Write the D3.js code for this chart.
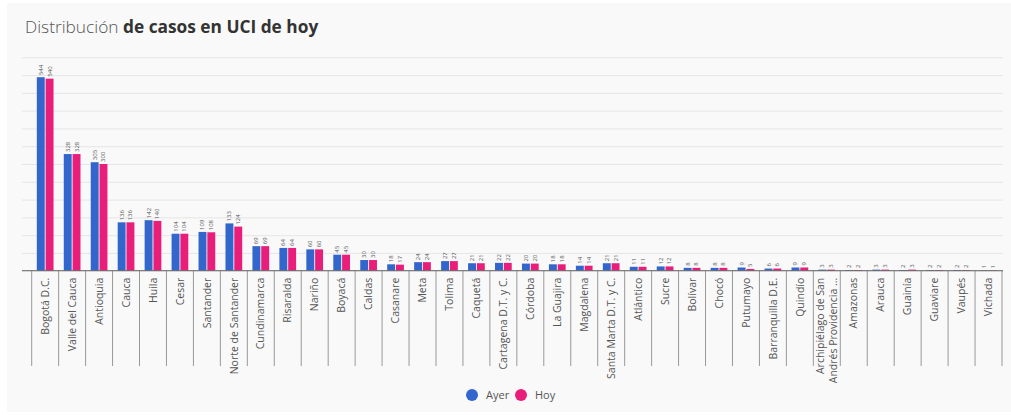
<!DOCTYPE html>
<html>
<head>
<meta charset="utf-8">
<script src="https://cdn.jsdelivr.net/npm/d3@7"></script>
<style>
  body { margin: 0; background: #fff; font-family: "Open Sans", "DejaVu Sans", sans-serif; }
  .grid line { stroke: #e6e6e6; }
  .grid path { display: none; }
</style>
</head>
<body>
<svg id="chart" width="1011" height="415"></svg>
<script>
// datos
var categorias = ["Bogotá D.C.", "Valle del Cauca", "Antioquia", "Cauca", "Huila", "Cesar", "Santander",
  "Norte de Santander", "Cundinamarca", "Risaralda", "Nariño", "Boyacá", "Caldas", "Casanare", "Meta",
  "Tolima", "Caquetá", "Cartagena D.T. y C.", "Córdoba", "La Guajira", "Magdalena", "Santa Marta D.T. y C.",
  "Atlántico", "Sucre", "Bolívar", "Chocó", "Putumayo", "Barranquilla D.E.", "Quindío",
  "Archipiélago de San Andrés Providencia ...", "Amazonas", "Arauca", "Guainía", "Guaviare", "Vaupés", "Vichada"];
var ayer = [544, 328, 305, 136, 142, 104, 109, 133, 69, 64, 60, 45, 30, 18, 24, 27, 21, 22, 20, 18, 14, 21,
  11, 12, 8, 8, 9, 6, 9, 3, 2, 3, 2, 2, 2, 1];
var hoy = [540, 328, 300, 136, 140, 104, 108, 124, 69, 64, 60, 45, 30, 17, 24, 27, 21, 22, 20, 18, 14, 21,
  11, 12, 8, 8, 5, 6, 9, 3, 2, 3, 3, 2, 2, 1];
var series = ["Ayer", "Hoy"];
var colores = ["#3366cc", "#e91e7a"];
var yTicks = d3.range(0, 601, 50);

var svg = d3.select("#chart");

// fondo
svg.append("rect").attr("x", 7).attr("y", 3).attr("width", 1004).attr("height", 409).attr("fill", "#f9f9f9");

// titulo
var t = svg.append("text").attr("x", 25).attr("y", 33).attr("font-size", 17.3).attr("fill", "#555");
t.append("tspan").attr("font-weight", 300).text("Distribución ");
t.append("tspan").attr("font-weight", "bold").attr("fill", "#333").text("de casos en UCI de hoy");

var mLeft = 22, mRight = 1003, mTop = 57.3, mBottom = 270.7;

var x0 = d3.scaleBand().domain(categorias).range([31.7, 1002]).paddingInner(0.38).paddingOuter(0.19);
var x1 = d3.scaleBand().domain(series).range([0, x0.bandwidth()]).paddingInner(0.1);
var y = d3.scaleLinear().domain([0, 600]).range([mBottom, mTop]);

// grilla
svg.append("g")
  .attr("class", "grid")
  .attr("transform", "translate(" + mLeft + ",0)")
  .call(d3.axisLeft(y).tickValues(yTicks).tickSize(-(mRight - mLeft)).tickFormat(""));

// ticks del eje x (limites de banda)
var bordes = categorias.map(function (c) { return x0(c) - x0.step() * 0.19; });
bordes.push(1002);
svg.selectAll(".xtick").data(bordes).enter().append("line")
  .attr("x1", function (d) { return d; }).attr("x2", function (d) { return d; })
  .attr("y1", mBottom).attr("y2", 366)
  .attr("stroke", "#999").attr("stroke-width", 1);

// barras
var datos = categorias.map(function (c, i) { return { cat: c, vals: [ayer[i], hoy[i]] }; });
var grupos = svg.selectAll(".grupo").data(datos).enter().append("g")
  .attr("transform", function (d) { return "translate(" + x0(d.cat) + ",0)"; });

grupos.selectAll("rect").data(function (d) { return d.vals.map(function (v, j) { return { s: series[j], v: v, j: j }; }); })
  .enter().append("rect")
  .attr("x", function (d) { return x1(d.s); })
  .attr("y", function (d) { return y(d.v); })
  .attr("width", x1.bandwidth())
  .attr("height", function (d) { return mBottom - y(d.v); })
  .attr("fill", function (d) { return colores[d.j]; });

grupos.selectAll(".val").data(function (d) { return d.vals.map(function (v, j) { return { s: series[j], v: v }; }); })
  .enter().append("text")
  .attr("transform", function (d) {
    return "translate(" + (x1(d.s) + x1.bandwidth() / 2 + 2) + "," + (y(d.v) - 2) + ") rotate(-90)";
  })
  .attr("font-size", 6).attr("fill", "#555")
  .text(function (d) { return d.v; });

// linea base
svg.append("line").attr("x1", mLeft).attr("x2", mRight).attr("y1", mBottom).attr("y2", mBottom)
  .attr("stroke", "#666").attr("stroke-width", 1);

// etiquetas
svg.selectAll(".lab").data(categorias).enter().append("text")
  .attr("transform", function (d) { return "translate(" + (x0(d) + x0.bandwidth() / 2) + "," + (mBottom + 7) + ") rotate(-90)"; })
  .attr("text-anchor", "end")
  .attr("font-size", 10.5).attr("fill", "#555")
  .each(function (d) {
    var el = d3.select(this);
    if (d.length > 30) {
      el.append("tspan").attr("x", 0).attr("dy", "-0.3em").text("Archipiélago de San");
      el.append("tspan").attr("x", 0).attr("dy", "1.3em").text("Andrés Providencia ...");
    } else {
      el.attr("dy", "0.35em").text(d);
    }
  });

// leyenda
var leg = svg.selectAll(".leg").data(series).enter().append("g")
  .attr("transform", function (d, i) { return "translate(" + (472 + i * 49) + ",395)"; });
leg.append("circle").attr("r", 6).attr("fill", function (d, i) { return colores[i]; });
leg.append("text").attr("x", 14).attr("dy", "0.35em").attr("font-size", 11).attr("fill", "#555").text(function (d) { return d; });
</script>
</body>
</html>
